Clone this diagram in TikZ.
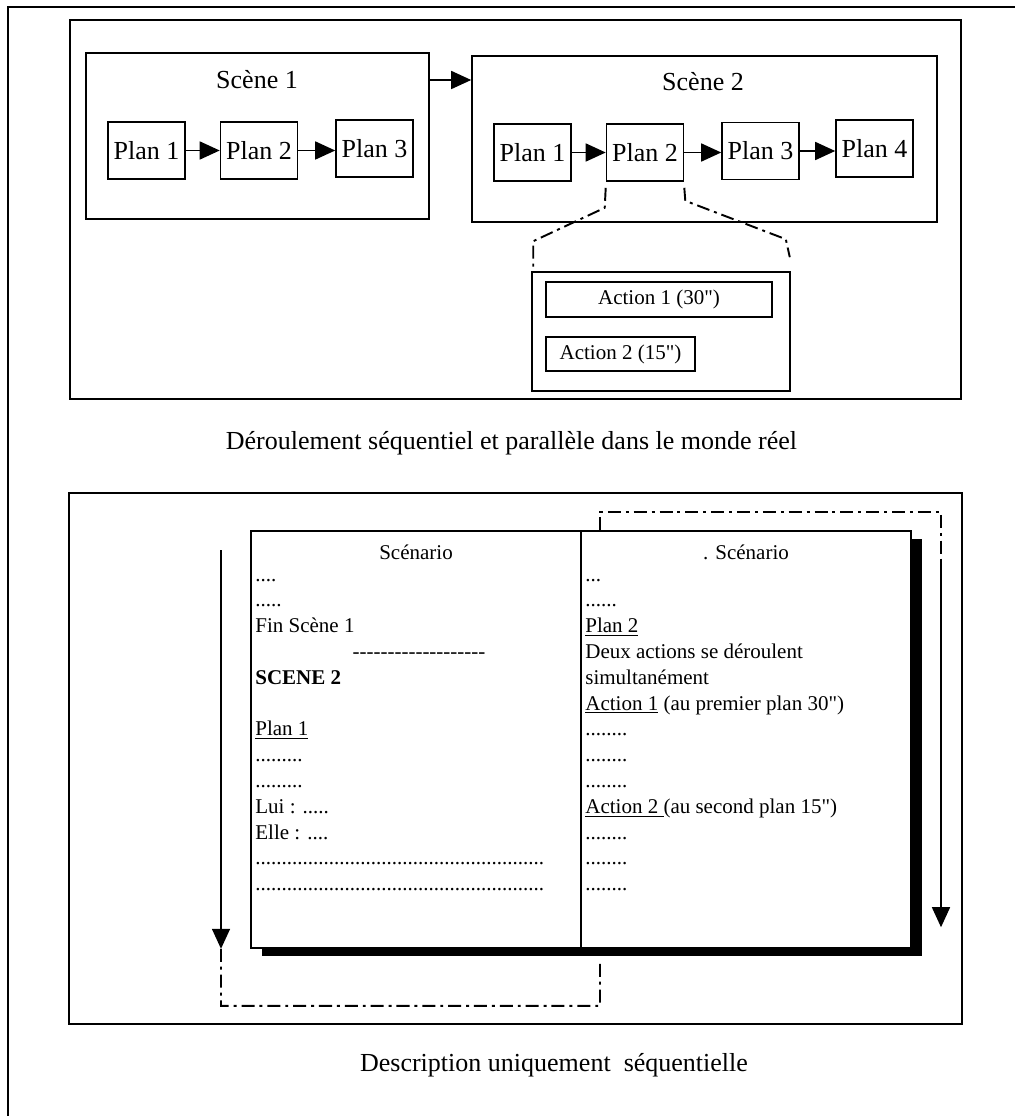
\documentclass[tikz,border=0pt]{standalone}
\usepackage{fontspec}
\newfontfamily\plainserif{Liberation Serif}
\usepackage{tikz}
\usetikzlibrary{arrows.meta,positioning,shadows}
\tikzset{
  bigtext/.style={font=\plainserif\fontsize{14.8}{17}\selectfont},
  smalltext/.style={font=\plainserif\fontsize{11.95}{14}\selectfont},
  panel/.style={draw, line width=1.1pt, inner sep=0},
  scenebox/.style={draw, line width=0.9pt, inner sep=0},
  planbox/.style={draw, line width=0.9pt, inner sep=0, minimum width=15.4mm, minimum height=11.4mm, bigtext},
  actionbox/.style={draw, line width=0.9pt, inner sep=0, smalltext},
  pagebox/.style={draw, line width=0.9pt, fill=white, inner sep=0,
    drop shadow={shadow xshift=2.2mm, shadow yshift=-1.6mm, opacity=1, fill=black}},
  flow/.style={-{Triangle[length=4mm,width=3.6mm]}, line width=0.9pt},
  zoomline/.style={line width=1.1pt, dash pattern=on 7.4pt off 2.8pt on 1.7pt off 2.8pt},
  textline/.style={smalltext, anchor=base west, inner sep=0}
}

\begin{document}
\begin{tikzpicture}[x=1cm,y=1cm]
  \useasboundingbox (0,0) rectangle (20.3,-22.32);
  \draw[line width=1.3pt] (0.16,-22.32) -- (0.16,-0.14) -- (20.3,-0.14);

  % real world
  \node[panel, minimum width=178.2mm, minimum height=75.8mm] (realbox) at (10.31,-4.19) {};
  \node[scenebox, minimum width=68.6mm, minimum height=33.2mm] (scene1) at (5.15,-2.72) {};
  \node[bigtext] (s1title) at (5.14,-1.60) {Scène 1};
  \node[planbox] (p11) at (2.93,-3.01) {Plan 1};
  \node[planbox] (p12) at (5.18,-3.01) {Plan 2};
  \node[planbox] (p13) at (7.49,-2.97) {Plan 3};

  \node[scenebox, minimum width=93mm, minimum height=33.2mm] (scene2) at (14.09,-2.78) {};
  \node[bigtext] (s2title) at (14.06,-1.64) {Scène 2};
  \node[planbox] (p21) at (10.65,-3.05) {Plan 1};
  \node[planbox] (p22) at (12.90,-3.05) {Plan 2};
  \node[planbox] (p23) at (15.21,-3.02) {Plan 3};
  \node[planbox] (p24) at (17.49,-2.97) {Plan 4};

  \draw[flow] (scene1.east |- s1title) -- (scene2.west |- s1title);
  \foreach \a/\b in {p11/p12,p12/p13,p21/p22,p22/p23,p23/p24} {
    \draw[flow] (\a.east) -- (\a.east -| \b.west);
  }

  \node[actionbox, minimum width=51.6mm, minimum height=23.8mm] (act) at (13.22,-6.63) {};
  \node[actionbox, minimum width=45.2mm, minimum height=7mm] (a1) at (13.18,-5.99) {Action 1 (30")};
  \node[actionbox, minimum width=29.8mm, minimum height=6.8mm] (a2) at (12.41,-7.08) {Action 2 (15")};

  \draw[zoomline] ([yshift=-1.2mm]p22.south west) -- ++(-0.02,-0.4) -- ([shift={(0.04,0.6)}]act.north west) -- ([shift={(0.04,0.08)}]act.north west);
  \draw[zoomline] ([yshift=-1.2mm]p22.south east) -- ++(0.02,-0.26) -- ([shift={(-0.1,0.64)}]act.north east) -- ([shift={(-0.02,0.28)}]act.north east);

  \node[bigtext] (realcap) at (10.23,-8.86) {Déroulement séquentiel et parallèle dans le monde réel};

  % script
  \node[panel, minimum width=178.6mm, minimum height=106.2mm] (scriptbox) at (10.31,-15.17) {};
  \node[pagebox, minimum width=132mm, minimum height=83.4mm] (page) at (11.62,-14.79) {};
  \draw[line width=0.9pt] (page.north) -- (page.south);

  \node[smalltext, anchor=base] (lefthead) at (8.32,-11.18) {Scénario};
  \node[smalltext, anchor=base] (righthead) at (14.92,-11.18) {. Scénario};

  \foreach \n/\txt in {1/{....},2/{.....},3/{Fin Scène 1},5/{\textbf{SCENE 2}},7/{\underline{Plan 1}},
      8/{.........},9/{.........},10/{Lui : .....},11/{Elle : ....},
      12/{.......................................................},13/{.......................................................}} {
    \node[textline] (left\n) at (5.10,{-11.104-0.516*\n}) {\txt};
  }
  \node[smalltext, anchor=base, inner sep=0] (left4) at (8.38,-13.168) {-------------------};

  \foreach \n/\txt in {1/{...},2/{......},3/{\underline{Plan 2}},4/{Deux actions se déroulent},5/{simultanément},
      6/{\underline{Action 1} (au premier plan 30")},7/{........},8/{........},9/{........},
      10/{\underline{Action 2 }(au second plan 15")},11/{........},12/{........},13/{........}} {
    \node[textline] (right\n) at (11.70,{-11.104-0.516*\n}) {\txt};
  }

  \coordinate (downL) at (4.42,-11.0);
  \draw[flow] (downL) -- (downL |- page.south);
  \draw[zoomline] (downL |- page.south) -- ++(0,-1.14) -- ++(7.58,0) -- ([xshift=3.8mm,yshift=-2.4mm]page.south);
  \coordinate (jump) at ([xshift=3.8mm]page.north);
  \draw[zoomline] (jump) -- ++(0,0.36) -- ++(6.82,0) -- ++(0,-0.94) coordinate (downR);
  \draw[flow] (downR) -- ++(0,-7.36);

  \node[bigtext] (scriptcap) at (11.08,-21.30) {Description uniquement~ séquentielle};
\end{tikzpicture}
\end{document}
